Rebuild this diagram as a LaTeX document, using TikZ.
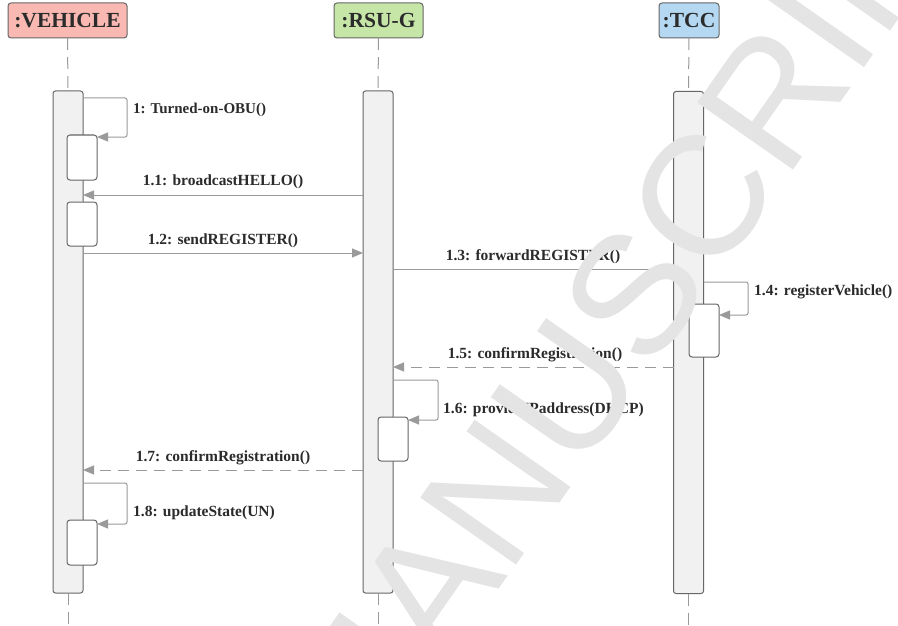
\documentclass[tikz,border=0pt]{standalone}
\usepackage{fontspec}
\setmainfont{Liberation Serif}
\newfontfamily\wmfont{Liberation Sans}
\usetikzlibrary{arrows.meta}
\definecolor{vehfill}{HTML}{F9B9B2}
\definecolor{rsufill}{HTML}{C6E6A8}
\definecolor{tccfill}{HTML}{B4D8F1}
\definecolor{edge}{HTML}{666666}
\definecolor{msgcol}{HTML}{9A9A9A}
\definecolor{barfill}{HTML}{F1F1F1}
\definecolor{txt}{HTML}{2B2B2B}
\definecolor{wm}{HTML}{E4E4E4}
\tikzset{
  head/.style={draw=edge, line width=1pt, rounded corners=3pt, inner sep=0pt, outer sep=0pt,
    minimum height=35pt, text=txt, font=\bfseries\fontsize{21.5}{23}\selectfont},
  bar/.style={draw=edge, line width=1pt, fill=barfill, rounded corners=2.5pt, inner sep=0pt, outer sep=0pt,
    minimum width=30pt, minimum height=502pt},
  actbox/.style={draw=edge, line width=1pt, fill=white, rounded corners=3pt, inner sep=0pt, outer sep=0pt,
    minimum width=30pt},
  life/.style={draw=msgcol, line width=1pt, dash pattern=on 12pt off 7pt},
  msg/.style={draw=msgcol, line width=1pt, rounded corners=2pt, -{Triangle[length=11pt,width=9pt]}, msgcol},
  reply/.style={msg, dash pattern=on 11pt off 7pt},
  lbl/.style={text=txt, inner sep=0pt, font=\bfseries\fontsize{15.5}{17}\selectfont},
}
\begin{document}
\begin{tikzpicture}[x=1pt,y=-1pt]
\useasboundingbox[fill=white] (0,0) rectangle (898,626);
% headers
\node[head, fill=vehfill, minimum width=119pt] (vhead) at (67.5,20.5) {:VEHICLE};
\node[head, fill=rsufill, minimum width=89pt] (rhead) at (378.5,20.5) {:RSU-G};
\node[head, fill=tccfill, minimum width=60pt] (thead) at (689,20.5) {:TCC};
% lifeline ends
\coordinate (vend) at (68,626);
\coordinate (rend) at (378,626);
\coordinate (tend) at (688.5,626);
% activation bars
\node[bar] (vbar) at (68,342) {};
\node[bar] (rbar) at (378,342) {};
\node[bar] (tbar) at (688.5,342.5) {};
\draw[life] (vhead.south) -- (vbar.north);
\draw[life] (rhead.south) -- (rbar.north);
\draw[life] (thead.south) -- (tbar.north);
\draw[life] (vbar.south) -- (vend);
\draw[life] (rbar.south) -- (rend);
\draw[life] (tbar.south) -- (tend);
% nested activations
\node[actbox, minimum height=45pt] (va1) at (82,157.5) {};
\node[actbox, minimum height=44pt] (va2) at (82,224) {};
\node[actbox, minimum height=45pt] (va3) at (82,542.5) {};
\node[actbox, minimum height=44pt] (ra1) at (393,439) {};
\node[actbox, minimum height=53pt] (ta1) at (704,330.5) {};
% messages
\draw[msg] (vbar.east |- 0,98) -- (127,98) -- (127,137) -- (va1.east |- 0,137);
\node[lbl, anchor=west, font=\bfseries\fontsize{15}{17}\selectfont] (l1) at (133,110) {1: Turned-on-OBU()};
\draw[msg] (rbar.west |- 0,195) -- (vbar.east |- 0,195);
\node[lbl] (l11) at (223,182) {1.1: broadcastHELLO()};
\draw[msg] (vbar.east |- 0,253) -- (rbar.west |- 0,253);
\node[lbl] (l12) at (223,241) {1.2: sendREGISTER()};
\draw[msg] (rbar.east |- 0,269) -- (tbar.west |- 0,269);
\node[lbl] (l13) at (533,257) {1.3: forwardREGISTER()};
\draw[msg] (tbar.east |- 0,282) -- (748,282) -- (748,315) -- (ta1.east |- 0,315);
\node[lbl, anchor=west] (l14) at (754,292) {1.4: registerVehicle()};
\draw[reply] (tbar.west |- 0,367) -- (rbar.east |- 0,367);
\node[lbl] (l15) at (535,355) {1.5: confirmRegistration()};
\draw[msg] (rbar.east |- 0,380) -- (438,380) -- (438,420) -- (ra1.east |- 0,420);
\node[lbl, anchor=west] (l16) at (443,410) {1.6: provideIPaddress(DHCP)};
\draw[reply] (rbar.west |- 0,470) -- (vbar.east |- 0,470);
\node[lbl] (l17) at (223,458) {1.7: confirmRegistration()};
\draw[msg] (vbar.east |- 0,483) -- (127,483) -- (127,524) -- (va3.east |- 0,524);
\node[lbl, anchor=west] (l18) at (133,513) {1.8: updateState(UN)};
% watermark
\node[text=wm, rotate=55, inner sep=0pt, font=\wmfont\fontsize{170}{170}\selectfont] (wmark) at (637,291) {MANUSCRIPT};
\end{tikzpicture}
\end{document}
